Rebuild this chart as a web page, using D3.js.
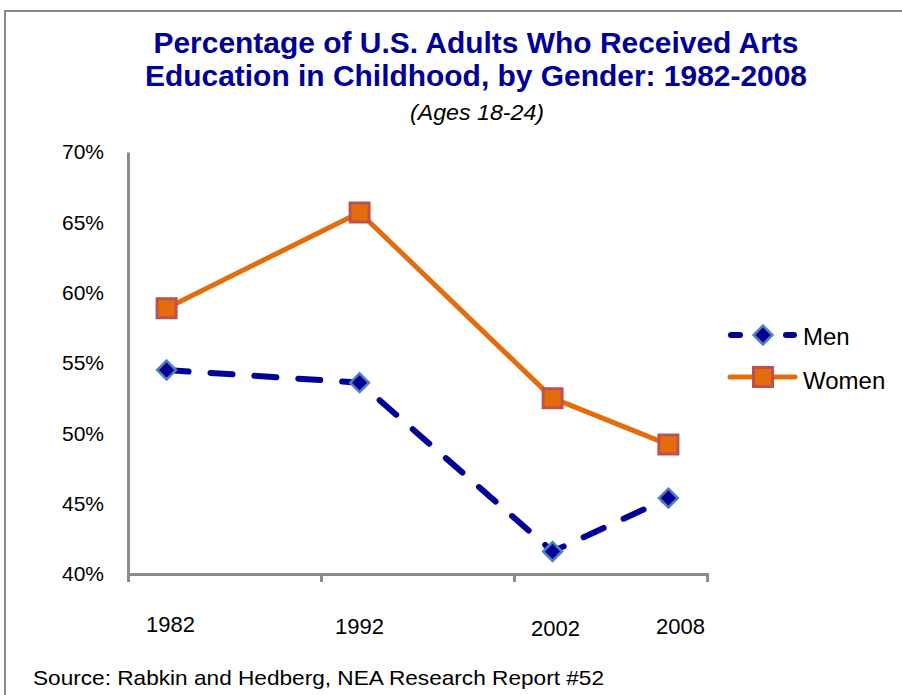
<!DOCTYPE html>
<html>
<head>
<meta charset="utf-8">
<script src="https://cdn.jsdelivr.net/npm/d3@7"></script>
<style>
  html, body { margin: 0; padding: 0; background: #fff; }
  svg { display: block; font-family: "Liberation Sans", Arial, sans-serif; }
</style>
</head>
<body>
<svg id="chart" width="902" height="695"></svg>
<script>
// Survey years and shares (percent) of adults 18-24 who received arts education
const years = [1982, 1992, 2002, 2008];
const men = [54.5, 53.6, 41.6, 45.4];
const women = [58.9, 65.7, 52.5, 49.2];
const yTicks = [40, 45, 50, 55, 60, 65, 70];
const xTicks = [1980, 1990, 2000, 2010];

const svg = d3.select("#chart");

// outer frame
svg.append("rect")
  .attr("x", 5).attr("y", 11)
  .attr("width", 920).attr("height", 720)
  .attr("fill", "none").attr("stroke", "#8a8a8a").attr("stroke-width", 2);

// titles
const titleColor = "#000099";
svg.append("text").attr("x", 476).attr("y", 53)
  .attr("text-anchor", "middle").attr("font-size", 29).attr("font-weight", "bold")
  .attr("fill", titleColor).attr("textLength", 645).attr("lengthAdjust", "spacingAndGlyphs")
  .text("Percentage of U.S. Adults Who Received Arts");
svg.append("text").attr("x", 476).attr("y", 86)
  .attr("text-anchor", "middle").attr("font-size", 29).attr("font-weight", "bold")
  .attr("fill", titleColor).attr("textLength", 662).attr("lengthAdjust", "spacingAndGlyphs")
  .text("Education in Childhood, by Gender: 1982-2008");
svg.append("text").attr("x", 477).attr("y", 120)
  .attr("text-anchor", "middle").attr("font-size", 22).attr("font-style", "italic")
  .attr("fill", "#000").attr("textLength", 134).attr("lengthAdjust", "spacingAndGlyphs")
  .text("(Ages 18-24)");

// scales
const x = d3.scaleLinear().domain([1980, 2010]).range([128, 707]);
const y = d3.scaleLinear().domain([40, 70]).range([574, 152]);

const axisColor = "#8c8c8c";

// y axis: line only, labels on the left
const yAxis = svg.append("g").attr("transform", `translate(${x(1980)},0)`)
  .call(d3.axisLeft(y).tickValues(yTicks).tickSize(0).tickPadding(24)
    .tickFormat(d => d + "%"));
yAxis.select(".domain").attr("stroke", axisColor).attr("stroke-width", 3);
yAxis.selectAll("text").attr("font-size", 21).attr("fill", "#000")
  .attr("font-family", "Liberation Sans, Arial, sans-serif");

// x axis: tick marks at the decades
const xAxis = svg.append("g").attr("transform", `translate(0,${y(40)})`)
  .call(d3.axisBottom(x).tickValues(xTicks).tickSizeInner(8).tickSizeOuter(8)
    .tickFormat(""));
xAxis.select(".domain").attr("stroke", axisColor).attr("stroke-width", 3);
xAxis.selectAll(".tick line").attr("stroke", axisColor).attr("stroke-width", 3);

// year labels beneath the axis, set near each survey point
const labelNudge = { 1982: [4, 0], 1992: [0, 2], 2002: [3, 4], 2008: [12, 2] };
svg.append("g").selectAll("text").data(years).join("text")
  .attr("x", d => x(d) + labelNudge[d][0])
  .attr("y", d => 632 + labelNudge[d][1])
  .attr("text-anchor", "middle").attr("font-size", 22).attr("fill", "#000")
  .text(d => d);

// series styling
const menLine = "#000099", menEdge = "#4f81bd";
const womenLine = "#e46c0a", womenEdge = "#c0504d";

const line = d3.line().x(d => x(d[0])).y(d => y(d[1]));

svg.append("path")
  .datum(d3.zip(years, women))
  .attr("d", line).attr("fill", "none")
  .attr("stroke", womenLine).attr("stroke-width", 5).attr("stroke-linejoin", "round");

svg.append("path")
  .datum(d3.zip(years, men))
  .attr("d", line).attr("fill", "none")
  .attr("stroke", menLine).attr("stroke-width", 6)
  .attr("stroke-linecap", "round").attr("stroke-dasharray", "22,22");

const square = d3.symbol().type(d3.symbolSquare).size(19 * 19);
const diamond = d3.symbol().type(d3.symbolDiamond2).size(15 * 15);

svg.append("g").selectAll("path").data(d3.zip(years, women)).join("path")
  .attr("transform", d => `translate(${x(d[0])},${y(d[1])})`)
  .attr("d", square).attr("fill", womenLine)
  .attr("stroke", womenEdge).attr("stroke-width", 3);

svg.append("g").selectAll("path").data(d3.zip(years, men)).join("path")
  .attr("transform", d => `translate(${x(d[0])},${y(d[1])})`)
  .attr("d", diamond).attr("fill", menLine)
  .attr("stroke", menEdge).attr("stroke-width", 2.5);

// legend
const legend = svg.append("g");
const lgX0 = 728, lgX1 = 797, lgMid = 763;
// Men
legend.append("line").attr("x1", lgX0 + 3).attr("x2", 740).attr("y1", 335).attr("y2", 335)
  .attr("stroke", menLine).attr("stroke-width", 6).attr("stroke-linecap", "round");
legend.append("line").attr("x1", 786).attr("x2", lgX1 - 3).attr("y1", 335).attr("y2", 335)
  .attr("stroke", menLine).attr("stroke-width", 6).attr("stroke-linecap", "round");
legend.append("path").attr("transform", `translate(${lgMid},335)`)
  .attr("d", diamond).attr("fill", menLine).attr("stroke", menEdge).attr("stroke-width", 2.5);
legend.append("text").attr("x", 803).attr("y", 345).attr("font-size", 24)
  .attr("fill", "#000").text("Men");
// Women
legend.append("line").attr("x1", lgX0 + 2).attr("x2", lgX1 - 2).attr("y1", 377).attr("y2", 377)
  .attr("stroke", womenLine).attr("stroke-width", 5).attr("stroke-linecap", "round");
legend.append("path").attr("transform", `translate(${lgMid},377)`)
  .attr("d", square).attr("fill", womenLine).attr("stroke", womenEdge).attr("stroke-width", 3);
legend.append("text").attr("x", 803).attr("y", 389).attr("font-size", 24)
  .attr("fill", "#000").text("Women");

// source note
svg.append("text").attr("x", 33).attr("y", 685).attr("font-size", 21)
  .attr("fill", "#000").attr("textLength", 571).attr("lengthAdjust", "spacingAndGlyphs")
  .text("Source: Rabkin and Hedberg, NEA Research Report #52");
</script>
</body>
</html>
